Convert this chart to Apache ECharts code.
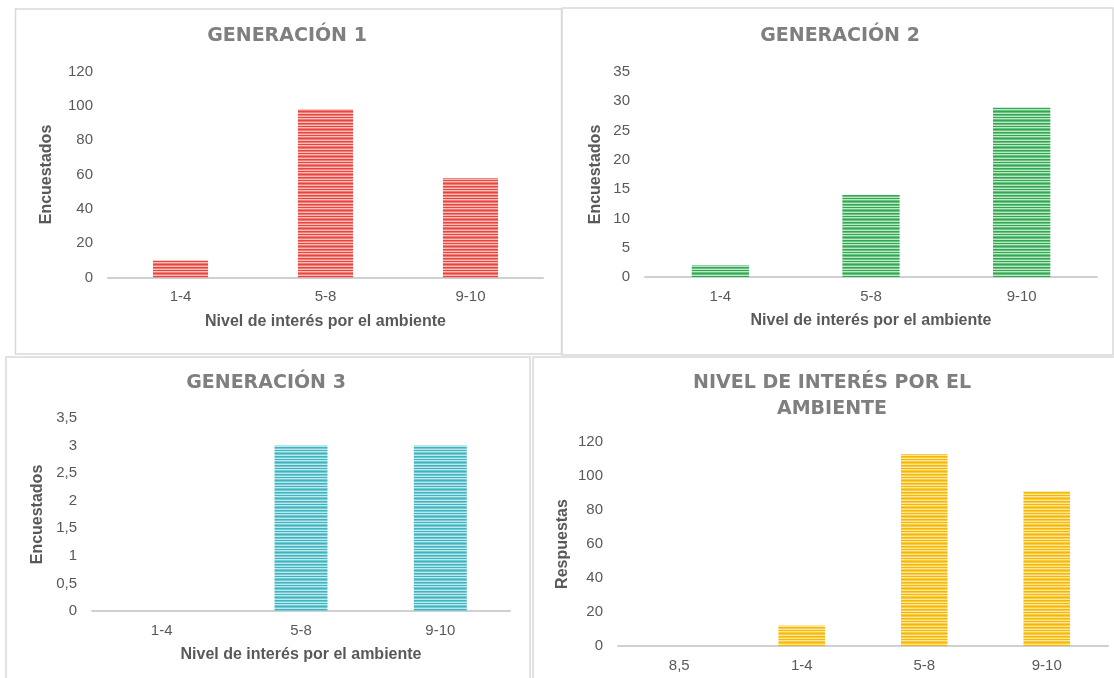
<!DOCTYPE html>
<html>
<head>
<meta charset="utf-8">
<script src="https://cdn.jsdelivr.net/npm/echarts@6/dist/echarts.min.js"></script>
<style>
html,body{margin:0;padding:0;background:#fff;}
#chart{width:1114px;height:678px;}
</style>
</head>
<body>
<div id="chart"></div>
<script>
// ---- data ----
const categories = ['1-4', '5-8', '9-10'];
const gen1Values = [10, 98, 58];
const gen2Values = [2, 14, 29];
const gen3Values = [0, 3, 3];
const totalCategories = ['8,5', '1-4', '5-8', '9-10'];
const totalValues = [0, 12, 113, 91];
// axis ranges [min, max, interval]
const gen1Axis = [0, 120, 20];
const gen2Axis = [0, 35, 5];
const gen3Axis = [0, 3.5, 0.5];
const totalAxis = [0, 120, 20];
const titles = ['GENERACIÓN 1', 'GENERACIÓN 2', 'GENERACIÓN 3', 'NIVEL DE INTERÉS POR EL\nAMBIENTE'];
const xName = 'Nivel de interés por el ambiente';
const yNameGen = 'Encuestados';
const yNameTotal = 'Respuestas';

// ---- styles ----
function stripe(dark, mid, light) {
  const c = document.createElement('canvas');
  c.width = 4; c.height = 9;
  const ctx = c.getContext('2d');
  const rows = [dark, light, mid, dark, mid, light, dark, mid, light];
  rows.forEach((col, i) => { ctx.fillStyle = col; ctx.fillRect(0, i, 4, 1); });
  return { image: c, repeat: 'repeat' };
}
const redFill = stripe('#e8453f', '#f07c77', '#f8bcb9');
const greenFill = stripe('#2fa84f', '#6cc283', '#bde5c7');
const tealFill = stripe('#3bb5c1', '#76cbd3', '#bfe7eb');
const yellowFill = stripe('#f5b800', '#f8cd45', '#fde5a0');

const FONT = '"Liberation Sans", Arial, sans-serif';
const TITLE_FONT = '"DejaVu Sans", "Liberation Sans", sans-serif';
const labelColor = '#595959';

const grids = [
  { left: 108, top: 71.5, width: 435, height: 206 },
  { left: 645, top: 72, width: 452, height: 205 },
  { left: 92, top: 418, width: 418, height: 193 },
  { left: 618, top: 442, width: 490, height: 204 }
];

function xAxis(idx, data, withName) {
  return {
    type: 'category', gridIndex: idx, data: data,
    axisTick: { show: false },
    axisLine: { lineStyle: { color: '#d0d0d0', width: 2 } },
    axisLabel: { color: labelColor, fontSize: 15, fontFamily: FONT, margin: 12 },
    name: withName ? xName : '',
    nameLocation: 'middle', nameGap: 36,
    nameTextStyle: { color: labelColor, fontSize: 16, fontWeight: 'bold', fontFamily: FONT }
  };
}
function yAxis(idx, range, name, gap, comma) {
  return {
    type: 'value', gridIndex: idx, min: range[0], max: range[1], interval: range[2],
    splitLine: { show: false }, axisLine: { show: false }, axisTick: { show: false },
    axisLabel: {
      color: labelColor, fontSize: 15, fontFamily: FONT, margin: 15,
      formatter: comma ? (v => String(v).replace('.', ',')) : null
    },
    name: name, nameLocation: 'middle', nameGap: gap, nameRotate: 90,
    nameTextStyle: { color: labelColor, fontSize: 16, fontWeight: 'bold', fontFamily: FONT }
  };
}
function barSeries(idx, data, fill) {
  return {
    type: 'bar', xAxisIndex: idx, yAxisIndex: idx, data: data, barWidth: '38%',
    itemStyle: { color: fill, borderWidth: 0 },
    silent: true
  };
}
function titleOpt(text, x, y, lh) {
  return {
    text: text, left: x, top: y, textAlign: 'center', padding: 0,
    textStyle: { color: '#7f7f7f', fontSize: 19, fontWeight: 'bold', fontFamily: TITLE_FONT, lineHeight: lh }
  };
}
function border(x, y, w, h) {
  return { type: 'rect', shape: { x: x, y: y, width: w, height: h }, style: { fill: 'none', stroke: '#d9d9d9', lineWidth: 1.5 }, silent: true, z: -1 };
}

const chart = echarts.init(document.getElementById('chart'), null, { renderer: 'canvas' });
chart.setOption({
  animation: false,
  backgroundColor: '#fff',
  graphic: [
    border(15.5, 9, 546, 345),
    border(562, 8, 551, 347),
    border(6, 357, 524, 330),
    border(533, 357, 590, 330)
  ],
  title: [
    titleOpt(titles[0], 287, 24, 24),
    titleOpt(titles[1], 840, 24, 24),
    titleOpt(titles[2], 266, 371, 24),
    titleOpt(titles[3], 832, 370, 26)
  ],
  grid: grids,
  xAxis: [
    xAxis(0, categories, true),
    xAxis(1, categories, true),
    xAxis(2, categories, true),
    xAxis(3, totalCategories, false)
  ],
  yAxis: [
    yAxis(0, gen1Axis, yNameGen, 53, false),
    yAxis(1, gen2Axis, yNameGen, 41, false),
    yAxis(2, gen3Axis, yNameGen, 46, true),
    yAxis(3, totalAxis, yNameTotal, 47, false)
  ],
  series: [
    barSeries(0, gen1Values, redFill),
    barSeries(1, gen2Values, greenFill),
    barSeries(2, gen3Values, tealFill),
    barSeries(3, totalValues, yellowFill)
  ]
});
</script>
</body>
</html>
